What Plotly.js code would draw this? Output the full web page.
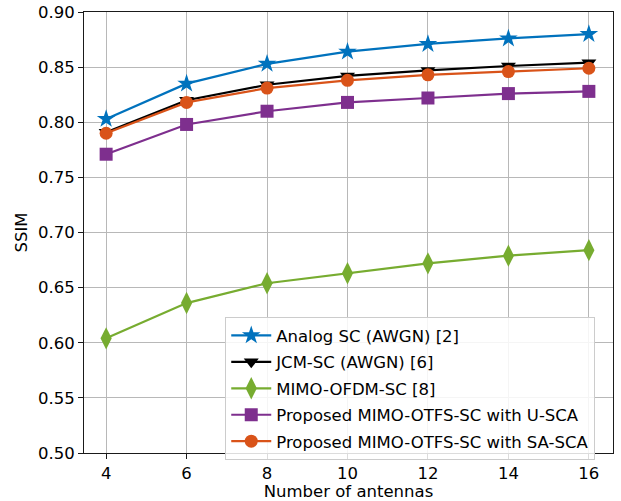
<!DOCTYPE html>
<html>
<head>
<meta charset="utf-8">
<script src="https://cdn.plot.ly/plotly-3.0.1.min.js"></script>
<style>body{margin:0;padding:0;background:#fff;} #chart{width:621px;height:501px;}</style>
</head>
<body>
<div id="chart"></div>
<script>
const antennas = [4, 6, 8, 10, 12, 14, 16];
const analogSC = [0.803, 0.835, 0.853, 0.864, 0.871, 0.876, 0.880];
const jcmSC = [0.791, 0.820, 0.834, 0.842, 0.847, 0.851, 0.854];
const mimoOFDM = [0.604, 0.636, 0.654, 0.663, 0.672, 0.679, 0.684];
const uSCA = [0.771, 0.798, 0.810, 0.818, 0.822, 0.826, 0.828];
const saSCA = [0.790, 0.818, 0.831, 0.838, 0.843, 0.846, 0.849];
const seriesNames = [
  "Analog SC (AWGN) [2]",
  "JCM-SC (AWGN) [6]",
  "MIMO-OFDM-SC [8]",
  "Proposed MIMO-OTFS-SC with U-SCA",
  "Proposed MIMO-OTFS-SC with SA-SCA"
];
const yTicks = [0.50, 0.55, 0.60, 0.65, 0.70, 0.75, 0.80, 0.85, 0.90];
const xTicks = [4, 6, 8, 10, 12, 14, 16];

const seriesData = [analogSC, jcmSC, mimoOFDM, uSCA, saSCA];
const colors = ["#0072BD", "#000000", "#77AC30", "#7E2F8E", "#D95319"];
const symbols = ["star", "triangle-down", "diamond-tall", "square", "circle"];
const sizes = [14, 13, 16, 13, 13];

const traces = seriesData.map((y, i) => ({
  x: antennas, y: y, name: seriesNames[i], type: "scatter", mode: "lines+markers",
  legendgroup: "g" + i,
  line: {color: colors[i], width: 2.2},
  marker: {symbol: symbols[i], size: sizes[i], color: colors[i]}
}));

const FS = 16.5;
const axisCommon = {
  showline: true, mirror: true, linecolor: "#1a1a1a", linewidth: 1,
  ticks: "outside", ticklen: 5, tickcolor: "#1a1a1a", tickwidth: 1,
  showgrid: true, gridcolor: "#b8b8b8", gridwidth: 1, zeroline: false,
  tickfont: {family: "DejaVu Sans", size: FS, color: "#000"}
};

const layout = {
  width: 621, height: 501,
  margin: {l: 84, r: 8, t: 12, b: 48},
  paper_bgcolor: "#fff", plot_bgcolor: "#fff",
  font: {family: "DejaVu Sans", size: FS, color: "#000"},
  xaxis: Object.assign({}, axisCommon, {
    range: [3.45, 16.6], tickvals: xTicks, ticktext: xTicks.map(String),
    title: {text: "Number of antennas", font: {family: "DejaVu Sans", size: FS}, standoff: 3}
  }),
  yaxis: Object.assign({}, axisCommon, {
    range: [0.50, 0.90], tickvals: yTicks, ticktext: yTicks.map(v => v.toFixed(2)),
    title: {text: "SSIM", font: {family: "DejaVu Sans", size: FS}, standoff: 6}
  }),
  legend: {
    x: 0.267, y: 0.308, xanchor: "left", yanchor: "top",
    bgcolor: "rgba(255,255,255,0.85)", bordercolor: "#cccccc", borderwidth: 1,
    font: {family: "DejaVu Sans", size: FS, color: "#000"},
    traceorder: "grouped", tracegroupgap: 2, itemwidth: 40
  },
  showlegend: true
};

Plotly.newPlot("chart", traces, layout, {displayModeBar: false, staticPlot: true});
</script>
</body>
</html>
